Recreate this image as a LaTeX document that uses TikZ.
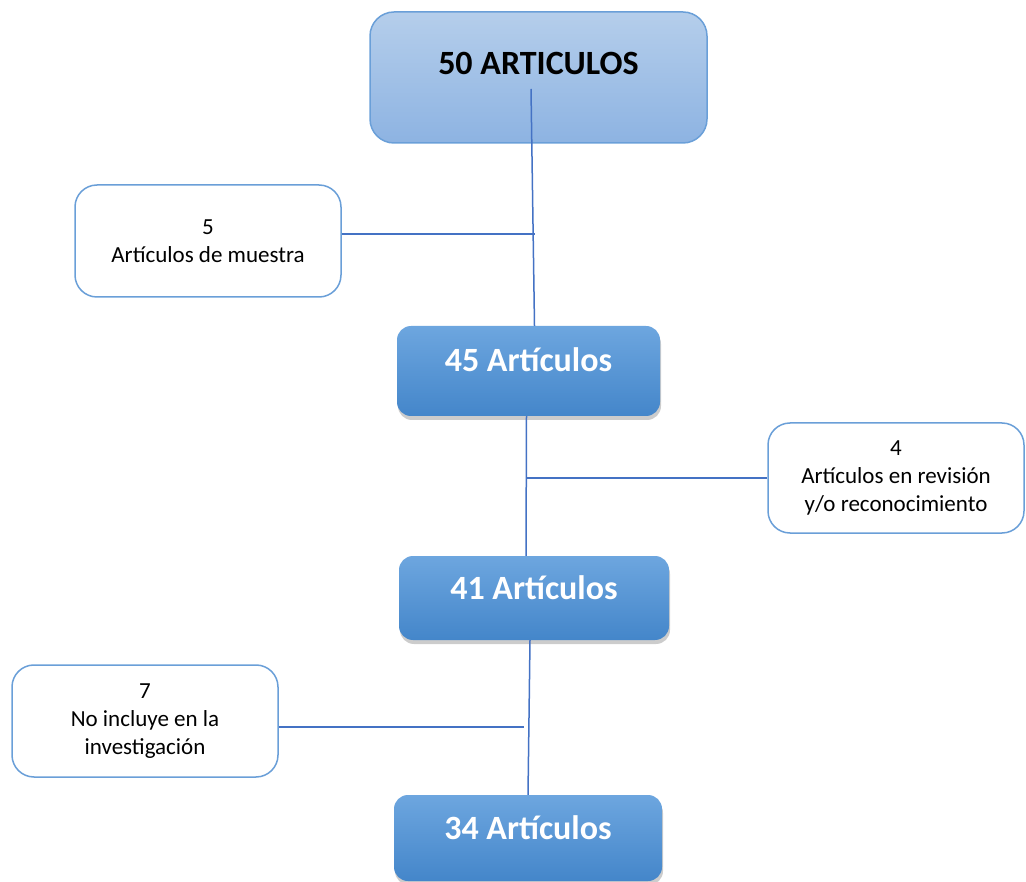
\documentclass[tikz,border=0pt]{standalone}
\usepackage{fontspec}
\setmainfont{Carlito}
\usepackage{xcolor}
\usetikzlibrary{positioning,shadows}
\definecolor{edgeblue}{HTML}{6A9FD8}
\definecolor{lineblue}{HTML}{4472C4}
\definecolor{headtop}{HTML}{B5CEEB}
\definecolor{headbot}{HTML}{8DB3E2}
\definecolor{counttop}{HTML}{6DA6DF}
\definecolor{countbot}{HTML}{4486CA}

\begin{document}
\begin{tikzpicture}[x=1pt, y=-1pt,
    head/.style={rectangle, rounded corners=24pt, draw=edgeblue, line width=1.5pt, top color=headtop, bottom color=headbot, minimum width=337pt, minimum height=131pt, font=\fontsize{34}{40}\selectfont\bfseries, text height=20pt, text depth=26pt},
    count/.style={rectangle, rounded corners=14pt, top color=counttop, bottom color=countbot, text=white, font=\fontsize{34}{40}\selectfont\bfseries, text height=22pt, text depth=20pt, drop shadow={shadow xshift=1pt, shadow yshift=-4pt, opacity=0.4}},
    note/.style={rectangle, rounded corners=22pt, draw=edgeblue, line width=1.5pt, fill=white, align=center, minimum width=266pt, minimum height=112pt, font=\fontsize{23}{28}\selectfont},
    link/.style={draw=lineblue, line width=1.5pt}
]
    \useasboundingbox (0,0) rectangle (1026,882);

    \node[head] (t50) at (538.5,77.5) {50 ARTICULOS};
    \node[note] (m5) at (208,241) {5\\Artículos de muestra};
    \node[count, minimum width=263pt, minimum height=90pt] (n45) at (528.5,371) {45 Artículos};
    \node[note, minimum width=256pt, minimum height=110pt] (r4) at (896,478) {4\\Artículos en revisión\\y/o reconocimiento};
    \node[count, minimum width=270pt, minimum height=84pt] (n41) at (534,598) {41 Artículos};
    \node[note] (e7) at (145,721) {7\\No incluye en la\\investigación};
    \node[count, minimum width=268pt, minimum height=86pt] (n34) at (528,838) {34 Artículos};

    \coordinate (c1) at (531,89);
    \coordinate (j1) at (535,234);
    \coordinate (j2) at (527,478);
    \coordinate (j3) at (524,727);

    \draw[link] (c1) -- ([xshift=6pt]n45.north);
    \draw[link] (m5.east |- j1) -- (j1);
    \draw[link] ([xshift=-2pt]n45.south) -- ([xshift=-8pt]n41.north);
    \draw[link] (j2) -- (r4.west);
    \draw[link] ([xshift=-4pt]n41.south) -- (n34.north);
    \draw[link] (e7.east |- j3) -- (j3);
\end{tikzpicture}
\end{document}
